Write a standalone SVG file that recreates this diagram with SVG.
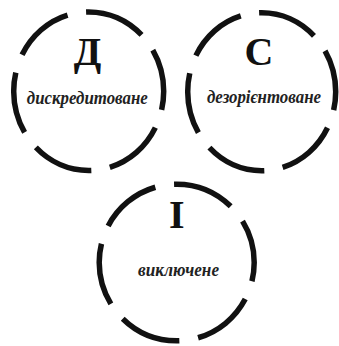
<svg xmlns="http://www.w3.org/2000/svg" width="339" height="346" viewBox="0 0 339 346">
  <style>
    .ring { fill: none; stroke: #111; stroke-width: 5.5; stroke-dasharray: 46 14; stroke-dashoffset: 32; }
    .cap { font-family: 'Liberation Serif', 'DejaVu Serif', 'Times New Roman', serif; font-weight: 700; font-size: 40px; fill: #111; text-anchor: middle; }
    .word { font-family: 'Liberation Serif', 'DejaVu Serif', serif; font-weight: 700; font-style: italic; font-size: 18px; fill: #222; text-anchor: middle; }
  </style>
  <rect width="339" height="346" fill="#fff"/>
  <g id="node-d">
    <ellipse class="ring" cx="88.7" cy="91.2" rx="75" ry="79.3" pathLength="360"/>
    <text class="cap" x="87.5" y="65">Д</text>
    <text class="word" x="87.3" y="104" textLength="121" lengthAdjust="spacingAndGlyphs">дискредитоване</text>
  </g>
  <g id="node-s">
    <ellipse class="ring" cx="261.7" cy="91.7" rx="74" ry="79" pathLength="360"/>
    <text class="cap" x="259" y="65">С</text>
    <text class="word" x="264" y="103" textLength="114" lengthAdjust="spacingAndGlyphs">дезорієнтоване</text>
  </g>
  <g id="node-i">
    <ellipse class="ring" cx="176.7" cy="262.5" rx="77.5" ry="78.3" pathLength="360"/>
    <text class="cap" x="176.7" y="228">І</text>
    <text class="word" x="178.5" y="276" textLength="81" lengthAdjust="spacingAndGlyphs">виключене</text>
  </g>
  <g id="connectors"></g>
</svg>
